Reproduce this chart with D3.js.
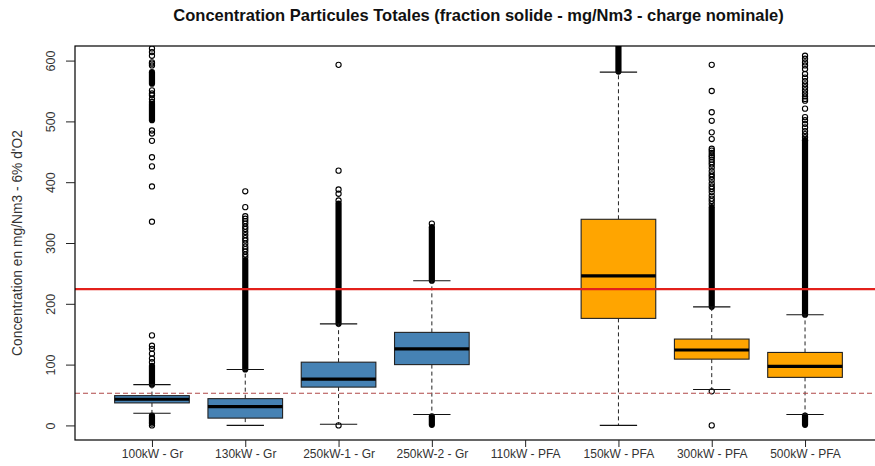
<!DOCTYPE html>
<html>
<head>
<meta charset="utf-8">
<script src="https://cdn.jsdelivr.net/npm/d3@7"></script>
<style>
  html, body { margin: 0; padding: 0; background: #fff; }
  text { font-family: "Liberation Sans", Arial, sans-serif; }
</style>
</head>
<body>
<svg id="chart" width="875" height="466"></svg>
<script>
// ---- data ----
const categories = ["100kW - Gr", "130kW - Gr", "250kW-1 - Gr", "250kW-2 - Gr",
                    "110kW - PFA", "150kW - PFA", "300kW - PFA", "500kW - PFA"];
const groupType   = ["Gr", "Gr", "Gr", "Gr", "PFA", "PFA", "PFA", "PFA"];
const lowWhisker  = [20, 0, 2, 18, null, 0, 59, 18];
const q1          = [37, 12, 63, 100, null, 176, 109, 79];
const median      = [43, 31, 76, 126, null, 246, 124, 97];
const q3          = [49, 44, 104, 153, null, 339, 142, 120];
const highWhisker = [67, 92, 167, 238, null, 581, 195, 182];

// individual outliers
const outliers = [
  [0, 3, 104, 110, 118, 126, 131, 148, 335, 393, 426, 441, 468, 480, 485,
   532, 537, 543, 546, 551, 592, 595, 597, 608, 614, 620],
  [385, 359, 344, 340, 336, 332, 327, 323, 318, 313, 308, 304, 299, 294, 290, 286, 281, 277],
  [0, 370, 381, 388, 419, 593],
  [332],
  [],
  [],
  [0, 56, 364, 369, 373, 378, 384, 389, 393, 398, 404, 409, 413, 418, 424, 429,
   433, 437, 441, 444, 448, 452, 455, 471, 482, 501, 515, 550, 593],
  [469, 474, 479, 484, 490, 496, 502, 507, 521, 534, 537, 541, 546, 551, 556,
   561, 566, 572, 578, 586, 592, 597, 603, 608]
];
// ranges where outliers overlap into a solid column
const denseRuns = [
  [[5, 16], [67, 98], [502, 529], [562, 581]],
  [[92, 272]],
  [[167, 365]],
  [[1, 15], [238, 326]],
  [],
  [[582, 660]],
  [[195, 359]],
  [[1, 16], [182, 469]]
];
const yTicks = [0, 100, 200, 300, 400, 500, 600];
const limitSolid = 224;
const limitDashed = 53;
const boxColors = { Gr: "#4682b4", PFA: "#ffa500" };
const titleText = "Concentration Particules Totales (fraction solide - mg/Nm3 - charge nominale)";
const yLabel = "Concentration en mg/Nm3 - 6% d'O2";

// ---- drawing ----
const svg = d3.select("#chart");
const L = 75, R = 882, T = 46, B = 440;

const x = d3.scalePoint().domain(categories).range([L, R]).padding(0.825);
const y = d3.scaleLinear().domain([-24, 624]).range([B, T]);
const bw = x.step() * 0.8;

svg.append("defs").append("clipPath").attr("id", "plotclip")
  .append("rect").attr("x", L).attr("y", T).attr("width", R - L).attr("height", B - T);

const plot = svg.append("g").attr("clip-path", "url(#plotclip)");

categories.forEach((c, i) => {
  const cx = x(c);
  const g = plot.append("g");
  // dense outlier columns
  denseRuns[i].forEach(r => {
    g.append("line")
      .attr("x1", cx).attr("x2", cx)
      .attr("y1", y(r[0])).attr("y2", y(r[1]))
      .attr("stroke", "#000").attr("stroke-width", 6.2)
      .attr("stroke-linecap", "round");
  });
  // individual outliers
  g.selectAll("circle.o").data(outliers[i]).enter().append("circle")
    .attr("cx", cx).attr("cy", d => y(d)).attr("r", 2.6)
    .attr("fill", "none").attr("stroke", "#000").attr("stroke-width", 1.1);

  if (median[i] === null) return;
  // whiskers (dashed)
  g.append("line").attr("x1", cx).attr("x2", cx)
    .attr("y1", y(q3[i])).attr("y2", y(highWhisker[i]))
    .attr("stroke", "#222").attr("stroke-dasharray", "4,3");
  g.append("line").attr("x1", cx).attr("x2", cx)
    .attr("y1", y(q1[i])).attr("y2", y(lowWhisker[i]))
    .attr("stroke", "#222").attr("stroke-dasharray", "4,3");
  // caps
  [lowWhisker[i], highWhisker[i]].forEach(v => {
    g.append("line").attr("x1", cx - bw / 4).attr("x2", cx + bw / 4)
      .attr("y1", y(v)).attr("y2", y(v))
      .attr("stroke", "#111").attr("stroke-width", 1.1);
  });
  // box
  g.append("rect")
    .attr("x", cx - bw / 2).attr("width", bw)
    .attr("y", y(q3[i])).attr("height", y(q1[i]) - y(q3[i]))
    .attr("fill", boxColors[groupType[i]])
    .attr("stroke", "#222").attr("stroke-width", 1.1);
  // median
  g.append("line").attr("x1", cx - bw / 2).attr("x2", cx + bw / 2)
    .attr("y1", y(median[i])).attr("y2", y(median[i]))
    .attr("stroke", "#000").attr("stroke-width", 3.2);
});

// reference lines
plot.append("line").attr("x1", L).attr("x2", R)
  .attr("y1", y(limitSolid)).attr("y2", y(limitSolid))
  .attr("stroke", "#e3201b").attr("stroke-width", 2.2);
plot.append("line").attr("x1", L).attr("x2", R)
  .attr("y1", y(limitDashed)).attr("y2", y(limitDashed))
  .attr("stroke", "#b04848").attr("stroke-width", 1.1).attr("stroke-dasharray", "5,3");

// frame
svg.append("rect").attr("x", L).attr("y", T).attr("width", R - L).attr("height", B - T)
  .attr("fill", "none").attr("stroke", "#000").attr("stroke-width", 1.2);

// y axis
const yAxis = svg.append("g").attr("transform", `translate(${L},0)`)
  .call(d3.axisLeft(y).tickValues(yTicks).tickSize(9).tickFormat(d3.format("d")));
yAxis.select(".domain").remove();
yAxis.selectAll(".tick line").attr("stroke", "#222");
yAxis.selectAll(".tick text")
  .attr("x", null).attr("dy", null)
  .attr("transform", "translate(-20,0) rotate(-90)")
  .attr("text-anchor", "middle")
  .attr("font-size", 12.5).attr("fill", "#333");

// x axis
const xAxis = svg.append("g").attr("transform", `translate(0,${B})`)
  .call(d3.axisBottom(x).tickSize(7));
xAxis.select(".domain").remove();
xAxis.selectAll(".tick line").attr("stroke", "#222");
xAxis.selectAll(".tick text").attr("y", 18).attr("dy", null)
  .attr("font-size", 12).attr("fill", "#333");

// title
svg.append("text").attr("x", (L + R) / 2).attr("y", 21)
  .attr("text-anchor", "middle").attr("font-weight", "bold")
  .attr("font-size", 16.5).attr("fill", "#111").text(titleText);

// y label
svg.append("text").attr("transform", `translate(22,${(T + B) / 2}) rotate(-90)`)
  .attr("text-anchor", "middle").attr("font-size", 13.8).attr("fill", "#333")
  .text(yLabel);
</script>
</body>
</html>
